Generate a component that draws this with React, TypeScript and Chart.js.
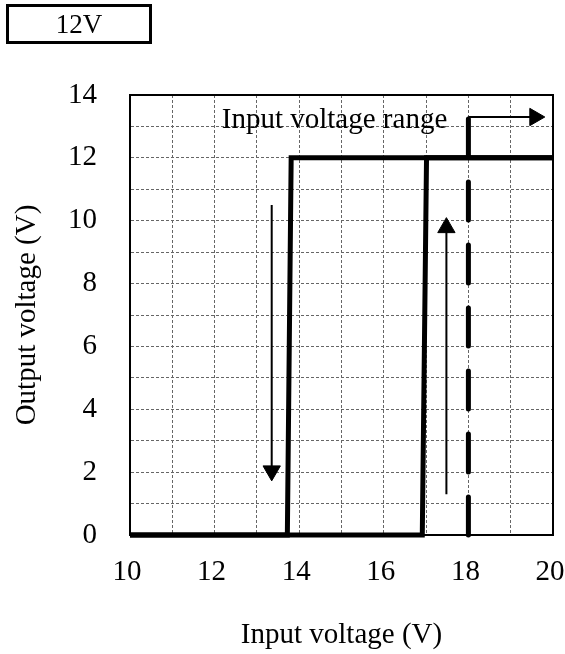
import React, { useEffect, useRef } from 'react';
import { Chart, registerables } from 'chart.js';

Chart.register(...registerables);

// Hysteresis curves (input voltage V -> output voltage V)
const risingX = [10, 16.91, 17.01, 20];
const risingY = [0, 0, 12, 12];
const fallingX = [20, 13.81, 13.72, 10];
const fallingY = [12, 12, 0, 0];

// Input voltage range limit (dashed) and its arrow
const limitX = [18, 18];
const limitY = [0, 13.4];
const rangeArrowX = [18, 19.57];
const rangeArrowY = [13.3, 13.3];

// Direction arrows
const downArrowX = [13.35, 13.35];
const downArrowY = [10.5, 2.04];
const upArrowX = [17.48, 17.48];
const upArrowY = [1.3, 9.78];

// Axis ticks
const xTickLabels = [10, 12, 14, 16, 18, 20];
const yTickLabels = [0, 2, 4, 6, 8, 10, 12, 14];

const badgeText = '12V';
const rangeLabel = 'Input voltage range';
const rangeLabelPos = { x: 12.17, y: 12.95 };
const xTitle = 'Input voltage (V)';
const yTitle = 'Output voltage (V)';

const FONT = "'Liberation Serif', 'Times New Roman', serif";
const FS = 29;

const pts = (xs: number[], ys: number[]) => xs.map((x, i) => ({ x, y: ys[i] }));

export default function App() {
  const ref = useRef<HTMLCanvasElement | null>(null);

  useEffect(() => {
    if (!ref.current) return;
    const framePlugin = {
      id: 'frameAndText',
      afterDatasetsDraw(chart: any) {
        const { ctx, chartArea, scales } = chart;
        ctx.save();
        ctx.strokeStyle = '#000';
        ctx.lineWidth = 2;
        ctx.strokeRect(chartArea.left, chartArea.top, chartArea.right - chartArea.left, chartArea.bottom - chartArea.top);
        ctx.fillStyle = '#000';
        ctx.font = `${FS}px ${FONT}`;
        ctx.textAlign = 'left';
        ctx.textBaseline = 'alphabetic';
        ctx.fillText(rangeLabel, scales.x.getPixelForValue(rangeLabelPos.x), scales.y.getPixelForValue(rangeLabelPos.y));
        ctx.restore();
      },
    };

    const thick = { borderColor: '#000', borderWidth: 5, pointRadius: 0, borderJoinStyle: 'miter' as const, tension: 0, clip: false };
    const arrow = (xs: number[], ys: number[], rot: number) => ({
      data: pts(xs, ys),
      borderColor: '#000',
      borderWidth: 2,
      pointRadius: [0, 10],
      pointStyle: 'triangle' as const,
      pointRotation: [0, rot],
      pointBackgroundColor: '#000',
      pointBorderColor: '#000',
      pointBorderWidth: 1,
      tension: 0,
      clip: false,
    });

    const chart = new Chart(ref.current, {
      type: 'line',
      data: {
        datasets: [
          { data: pts(fallingX, fallingY), ...thick },
          { data: pts(risingX, risingY), ...thick },
          {
            data: pts(limitX, limitY),
            borderColor: '#000',
            borderWidth: 5,
            pointRadius: 0,
            borderDash: [38, 25],
            borderCapStyle: 'round',
            clip: false,
          },
          arrow(rangeArrowX, rangeArrowY, 90),
          arrow(downArrowX, downArrowY, 180),
          arrow(upArrowX, upArrowY, 0),
        ] as any,
      },
      options: {
        responsive: false,
        animation: false,
        events: [],
        layout: { padding: { left: 0, top: 95, right: 12, bottom: 0 } },
        plugins: { legend: { display: false }, tooltip: { enabled: false } },
        scales: {
          x: {
            type: 'linear',
            min: 10,
            max: 20,
            afterFit(scale: any) {
              scale.height = 119;
              scale.paddingLeft = 0;
              scale.paddingRight = 0;
            },
            ticks: {
              stepSize: 1,
              autoSkip: false,
              maxRotation: 0,
              padding: 20,
              labelOffset: -3,
              color: '#000',
              font: { family: FONT, size: FS },
              callback: (v: any) => (xTickLabels.includes(Number(v)) ? String(v) : ''),
            },
            grid: { color: '#666', lineWidth: 1, drawTicks: false },
            border: { display: true, color: '#000', width: 2, dash: [3, 2] },
            title: { display: true, text: xTitle, color: '#000', font: { family: FONT, size: FS }, padding: { top: 0, bottom: 1 } },
          },
          y: {
            type: 'linear',
            min: 0,
            max: 14,
            afterFit(scale: any) {
              scale.width = 130;
              scale.paddingTop = 0;
              scale.paddingBottom = 0;
            },
            ticks: {
              stepSize: 1,
              autoSkip: false,
              padding: 33,
              color: '#000',
              font: { family: FONT, size: FS },
              callback: (v: any) => (yTickLabels.includes(Number(v)) ? String(v) : ''),
            },
            grid: { color: '#666', lineWidth: 1, drawTicks: false },
            border: { display: true, color: '#000', width: 2, dash: [3, 2] },
            title: { display: true, text: yTitle, color: '#000', font: { family: FONT, size: FS }, padding: { top: 10, bottom: 0 } },
          },
        },
      } as any,
      plugins: [framePlugin],
    });
    return () => chart.destroy();
  }, []);

  return (
    <div style={{ position: 'absolute', left: 0, top: 0, width: 565, height: 654, background: '#fff' }}>
      <canvas ref={ref} width={565} height={654} style={{ position: 'absolute', left: 0, top: 0, display: 'block' }} />
      <div
        style={{
          position: 'absolute',
          left: 6,
          top: 4,
          width: 146,
          height: 40,
          boxSizing: 'border-box',
          border: '3px solid #000',
          fontFamily: FONT,
          fontSize: 27,
          lineHeight: '34px',
          textAlign: 'center',
          color: '#000',
        }}
      >
        {badgeText}
      </div>
    </div>
  );
}
